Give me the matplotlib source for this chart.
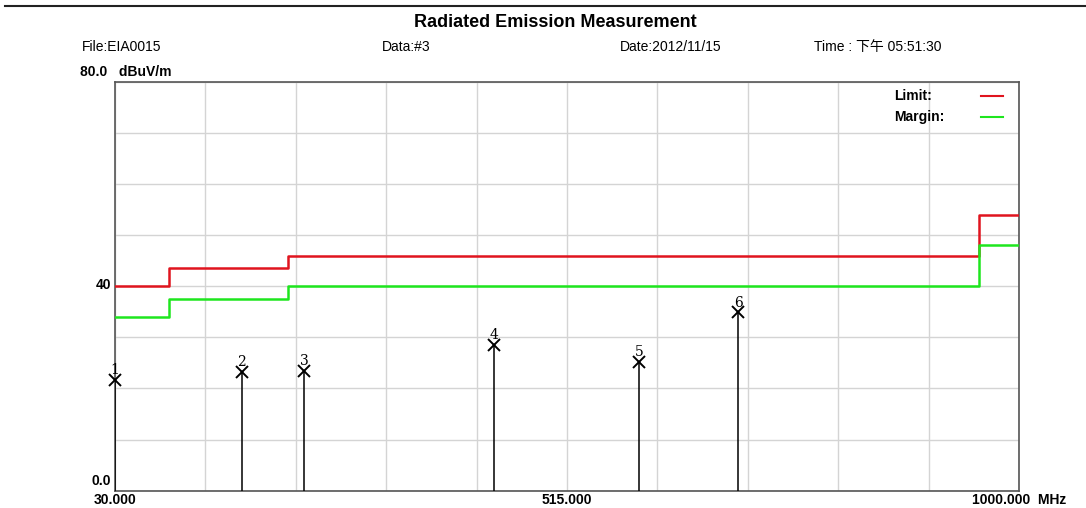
import matplotlib
matplotlib.use("Agg")
import matplotlib.pyplot as plt
import numpy as np

plt.rcParams['font.family'] = ['Liberation Sans', 'Noto Sans CJK SC', 'DejaVu Sans']

# limit line steps (MHz, dBuV/m)
limit_freq = [30, 88, 88, 216, 216, 957, 957, 1000]
limit_level = [40, 40, 43.5, 43.5, 46, 46, 54, 54]
margin_level = [34, 34, 37.5, 37.5, 40, 40, 48, 48]

# measured peaks
peak_no = ['1', '2', '3', '4', '5', '6']
peak_freq = [30.0, 166.0, 233.0, 437.0, 592.6, 698.8]
peak_level = [21.7, 23.2, 23.5, 28.5, 25.2, 34.9]

fig = plt.figure(figsize=(10.86, 5.08), dpi=100)
ax = fig.add_axes([0.1059, 0.034, 0.8324, 0.805])

ax.set_xlim(30, 1000)
ax.set_ylim(0, 80)
ax.set_xticks(np.linspace(30, 1000, 11))
ax.set_yticks(np.arange(0, 81, 10))
ax.grid(True, color='#d4d4d4', lw=1)
ax.tick_params(length=0, labelleft=False, labelbottom=False)
for s in ax.spines.values():
    s.set_color('#555555')
    s.set_linewidth(1.2)

ax.plot(limit_freq, limit_level, color='#e0141e', lw=1.8, zorder=3)
ax.plot(limit_freq, margin_level, color='#1ee61e', lw=1.8, zorder=3)

for n, f, v in zip(peak_no, peak_freq, peak_level):
    ax.vlines(f, 0, v, color='black', lw=1.1, zorder=4)
    ax.plot(f, v, marker='x', color='black', ms=8, mew=1.4, zorder=5, clip_on=False)
    ax.annotate(n, (f, v), xytext=(0, 2), textcoords='offset points',
                ha='center', va='bottom', fontsize=10, family='DejaVu Serif')

# legend
ax.text(0.862, 0.965, 'Limit:', transform=ax.transAxes, fontsize=10, fontweight='bold', va='center')
ax.text(0.862, 0.915, 'Margin:', transform=ax.transAxes, fontsize=10, fontweight='bold', va='center')
ax.plot([0.958, 0.982], [0.965, 0.965], transform=ax.transAxes, color='#e0141e', lw=1.5)
ax.plot([0.958, 0.982], [0.915, 0.915], transform=ax.transAxes, color='#1ee61e', lw=1.5)

# header texts
fig.add_artist(plt.Line2D([0.005, 1.0], [0.988, 0.988], color='#222222', lw=1.5))
fig.text(0.511, 0.955, 'Radiated Emission Measurement', ha='center', va='center',
         fontsize=13, fontweight='bold')
fig.text(0.0755, 0.907, 'File:EIA0015', fontsize=10, va='center')
fig.text(0.352, 0.907, 'Data:#3', fontsize=10, va='center')
fig.text(0.571, 0.907, 'Date:2012/11/15', fontsize=10, va='center')
fig.text(0.75, 0.907, 'Time : 下午 05:51:30', fontsize=10, va='center')
fig.text(0.074, 0.858, '80.0   dBuV/m', fontsize=10, va='center', fontweight='bold')

# axis labels
fig.text(0.102, 0.439, '40', fontsize=10, fontweight='bold', ha='right', va='center')
fig.text(0.102, 0.054, '0.0', fontsize=10, fontweight='bold', ha='right', va='center')
fig.text(0.1059, 0.016, '30.000', fontsize=10, fontweight='bold', ha='center', va='center')
fig.text(0.522, 0.016, '515.000', fontsize=10, fontweight='bold', ha='center', va='center')
fig.text(0.9383, 0.016, '1000.000  MHz', fontsize=10, fontweight='bold', ha='center', va='center')

fig.savefig('out.png', dpi=100)
